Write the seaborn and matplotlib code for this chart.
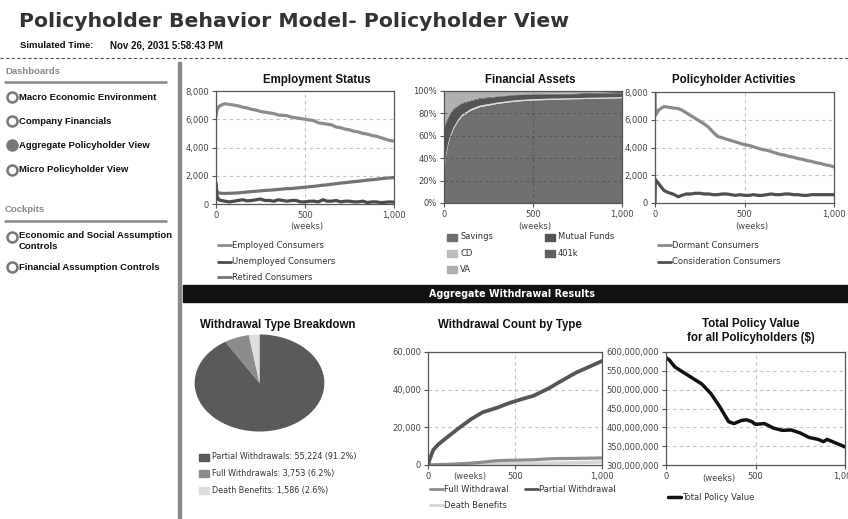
import matplotlib
matplotlib.use("Agg")
import matplotlib.pyplot as plt
import seaborn as sns
from matplotlib.lines import Line2D
from matplotlib.patches import Rectangle
from matplotlib.ticker import FuncFormatter

# ---------------- data ----------------
emp_weeks = [0, 5, 15, 30, 50, 75, 100, 125, 150, 175, 200, 225, 250, 275, 300, 325, 350, 375, 400,
             425, 450, 475, 500, 525, 550, 575, 600, 625, 650, 675, 700, 725, 750, 775, 800, 825,
             850, 875, 900, 925, 950, 975, 1000]
employed = [6200, 6600, 6900, 7000, 7100, 7050, 7000, 6950, 6850, 6800, 6700, 6650, 6550, 6500, 6450,
            6400, 6300, 6280, 6250, 6150, 6100, 6050, 6000, 5950, 5900, 5750, 5700, 5650, 5600, 5450,
            5400, 5300, 5250, 5150, 5100, 5000, 4950, 4850, 4800, 4700, 4600, 4500, 4450]
unemployed = [1500, 600, 300, 250, 200, 150, 200, 250, 300, 220, 250, 300, 350, 250, 250, 200, 300,
              250, 200, 250, 250, 150, 150, 200, 200, 150, 300, 200, 200, 250, 150, 200, 200, 150,
              150, 200, 100, 150, 150, 100, 120, 150, 130]
retired = [1300, 900, 780, 760, 750, 760, 770, 790, 820, 850, 880, 900, 930, 960, 980, 1000, 1030,
           1060, 1090, 1100, 1130, 1160, 1190, 1220, 1250, 1290, 1330, 1360, 1400, 1440, 1480, 1510,
           1550, 1580, 1610, 1650, 1690, 1720, 1750, 1790, 1820, 1850, 1870]

fa_weeks = [0, 5, 10, 20, 30, 50, 75, 100, 150, 200, 300, 400, 500, 700, 850, 1000]
savings = [28, 38, 44, 52, 58, 66, 73, 78, 83, 86, 89, 91, 92, 93, 93.5, 94]
cd = [1.5, 1.5, 1.5, 1.5, 1.5, 1.5, 1.5, 1.5, 1.5, 1.5, 1.2, 1.2, 1.2, 1.0, 1.0, 1.0]
mutual_funds = [38, 30, 26, 22, 19, 16, 12, 9.5, 7, 6, 5, 4.5, 4, 3.5, 3.5, 3.5]
k401 = [2, 2, 2, 1.5, 1.5, 1.2, 1, 1, 0.8, 0.8, 0.6, 0.5, 0.5, 0.5, 1.0, 1.2]
va = [30.5, 28.5, 26.5, 23, 20, 15.3, 12.5, 10, 7.7, 5.7, 4.2, 2.8, 2.3, 2.0, 1.0, 0.3]

pa_weeks = [0, 2, 20, 50, 75, 100, 130, 150, 175, 200, 225, 250, 275, 300, 325, 350, 375, 400, 425,
            450, 475, 500, 525, 550, 575, 600, 625, 650, 675, 700, 725, 750, 775, 800, 825, 850,
            875, 900, 925, 950, 975, 1000]
dormant = [8000, 6300, 6700, 6950, 6900, 6850, 6800, 6700, 6500, 6300, 6100, 5900, 5700, 5450, 5100,
           4800, 4700, 4600, 4500, 4400, 4300, 4200, 4150, 4050, 3950, 3850, 3800, 3700, 3600, 3500,
           3450, 3350, 3300, 3200, 3150, 3050, 3000, 2900, 2850, 2750, 2700, 2600]
consideration = [0, 1700, 1400, 900, 750, 650, 450, 550, 650, 650, 700, 700, 650, 650, 600, 600,
                 650, 650, 600, 550, 600, 550, 550, 600, 550, 550, 600, 650, 600, 600, 650, 650,
                 600, 600, 550, 550, 600, 600, 600, 600, 600, 600]

pie_labels = ["Partial Withdrawals", "Full Withdrawals", "Death Benefits"]
pie_values = [55224, 3753, 1586]
pie_pcts = ["91.2%", "6.2%", "2.6%"]

wc_weeks = [0, 10, 30, 60, 100, 176, 250, 314, 400, 470, 540, 608, 700, 745, 850, 1000]
partial_w = [0, 3000, 8000, 11000, 14000, 19500, 24500, 28000, 30500, 33000, 35000, 36800, 41000,
             43500, 49000, 55200]
full_w = [0, 50, 150, 250, 300, 600, 1000, 1500, 2300, 2500, 2600, 2800, 3300, 3400, 3500, 3750]
death_w = [0, 10, 30, 60, 100, 180, 250, 350, 600, 700, 800, 900, 1050, 1100, 1300, 1586]

tp_weeks = [0, 20, 50, 100, 150, 200, 250, 300, 350, 380, 420, 450, 480, 500, 550, 600, 650, 700,
            750, 800, 850, 880, 900, 950, 1000]
total_value = [585e6, 578e6, 560e6, 545e6, 530e6, 515e6, 490e6, 455e6, 415e6, 410e6, 418e6, 420e6,
               415e6, 408e6, 410e6, 398e6, 392e6, 393e6, 385e6, 373e6, 368e6, 362e6, 368e6, 358e6,
               348e6]

# ---------------- figure ----------------
W, H = 848, 519
fig = plt.figure(figsize=(W / 100, H / 100), dpi=100)
fig.patch.set_facecolor("white")
sns.set_style("white")
plt.rcParams["font.family"] = ["DejaVu Sans"]

HEAD = "Liberation Sans"
TICK_FS = 6
TICK_C = "#444444"
TITLE_FS = 8.3


def fx(x):
    return x / W


def fy(y):
    return 1 - y / H


def ax_at(x0, y0, x1, y1):
    return fig.add_axes([fx(x0), fy(y1), fx(x1 - x0), (y1 - y0) / H])


def ftext(x, y, s, **kw):
    kw.setdefault("va", "center")
    fig.text(fx(x), fy(y), s, **kw)


def style_axes(ax, ylim, yticks, yfmt, xlim=(0, 1000)):
    ax.set_xlim(*xlim)
    ax.set_ylim(*ylim)
    ax.set_xticks([0, 500, 1000])
    ax.set_yticks(yticks)
    ax.xaxis.set_major_formatter(FuncFormatter(lambda v, p: f"{int(v):,}"))
    ax.yaxis.set_major_formatter(FuncFormatter(yfmt))
    ax.tick_params(axis="both", labelsize=TICK_FS, labelcolor=TICK_C, length=3, width=0.8,
                   color="#555555", direction="out", pad=2, left=True, bottom=True)
    for s in ax.spines.values():
        s.set_color("#555555")
        s.set_linewidth(0.9)
    for t in yticks[1:-1]:
        ax.axhline(t, color="#c4c4c4", lw=0.8, ls=(0, (3, 3)), zorder=0.5)
    ax.axvline(500, color="#c4c4c4", lw=0.8, ls=(0, (3, 3)), zorder=0.5)
    ax.set_xlabel("")
    ax.set_ylabel("")
    ax.set_facecolor("white")


def leg_line(x0, y, text, color, lw=2.0):
    fig.add_artist(Line2D([fx(x0), fx(x0 + 13)], [fy(y), fy(y)], color=color, lw=lw,
                          transform=fig.transFigure))
    ftext(x0 + 14, y, text, fontsize=6, color="#333333")


def leg_box(x0, y, text, color, fs=6):
    fig.add_artist(Rectangle((fx(x0), fy(y + 3.5)), fx(10), 7 / H, color=color,
                             transform=fig.transFigure))
    ftext(x0 + 13, y, text, fontsize=fs, color="#333333")


# ---------------- header ----------------
ftext(19, 22, "Policyholder Behavior Model- Policyholder View", fontsize=14.7,
      fontweight="bold", family="DejaVu Sans", color="#333333")
ftext(20, 45, "Simulated Time:", fontsize=6.8, fontweight="bold", family=HEAD, color="#111111")
ftext(110, 45, "Nov 26, 2031 5:58:43 PM", fontsize=7, fontweight="bold", family=HEAD,
      color="#111111")
fig.add_artist(Line2D([0, 1], [fy(58), fy(58)], color="#555555", lw=0.8, ls=(0, (3, 2)),
                      transform=fig.transFigure))
fig.add_artist(Rectangle((fx(177.5), 0), fx(3), fy(62), color="#8a8a8a",
                         transform=fig.transFigure))

# ---------------- sidebar ----------------
ftext(5, 72, "Dashboards", fontsize=6.8, fontweight="bold", family=HEAD, color="#888888")
fig.add_artist(Line2D([fx(5), fx(166)], [fy(82), fy(82)], color="#888888", lw=1.8,
                      transform=fig.transFigure))
items = [("Macro Economic Environment", 97, False), ("Company Financials", 121, False),
         ("Aggregate Policyholder View", 145, True), ("Micro Policyholder View", 170, False)]
for name, yy, filled in items:
    fig.add_artist(Line2D([fx(11.5)], [fy(yy)], marker="o", markersize=7.2,
                          markerfacecolor="#777777" if filled else "white",
                          markeredgecolor="#777777", markeredgewidth=1.8,
                          transform=fig.transFigure))
    ftext(19, yy, name, fontsize=6.8, fontweight="bold", family=HEAD, color="#111111")
ftext(5, 210, "Cockpits", fontsize=6.8, fontweight="bold", family=HEAD, color="#888888")
fig.add_artist(Line2D([fx(5), fx(166)], [fy(220.5), fy(220.5)], color="#888888", lw=1.8,
                      transform=fig.transFigure))
for name, yy, ty in [("Economic and Social Assumption\nControls", 237, 241),
                     ("Financial Assumption Controls", 267, 267)]:
    fig.add_artist(Line2D([fx(11.5)], [fy(yy)], marker="o", markersize=7.2,
                          markerfacecolor="white", markeredgecolor="#777777",
                          markeredgewidth=1.8, transform=fig.transFigure))
    ftext(19, ty, name, fontsize=6.8, fontweight="bold", family=HEAD, color="#111111",
          linespacing=1.15)

# ---------------- chart 1: Employment Status ----------------
ax1 = ax_at(216, 91, 394, 204)
sns.lineplot(x=emp_weeks, y=employed, ax=ax1, color="#8c8c8c", lw=2.3)
sns.lineplot(x=emp_weeks, y=retired, ax=ax1, color="#737373", lw=2.3)
sns.lineplot(x=emp_weeks, y=unemployed, ax=ax1, color="#4a4a4a", lw=2.3)
style_axes(ax1, (0, 8000), [0, 2000, 4000, 6000, 8000], lambda v, p: f"{int(v):,}")
ftext(317, 80, "Employment Status", fontsize=TITLE_FS, fontweight="bold", family=HEAD,
      color="#111111", ha="center")
ftext(307, 227, "(weeks)", fontsize=6, color=TICK_C, ha="center")
leg_line(218, 245, "Employed Consumers", "#8c8c8c")
leg_line(218, 262, "Unemployed Consumers", "#4a4a4a")
leg_line(218, 277, "Retired Consumers", "#737373")

# ---------------- chart 2: Financial Assets ----------------
ax2 = ax_at(444, 91, 622, 203)
fa_colors = ["#6f6f6f", "#dcdcdc", "#545454", "#5e5e5e", "#b0b0b0"]
ax2.stackplot(fa_weeks, savings, cd, mutual_funds, k401, va, colors=fa_colors, lw=0)
style_axes(ax2, (0, 100), [0, 20, 40, 60, 80, 100], lambda v, p: f"{int(v)}%")
for t in [20, 40, 60, 80]:
    ax2.axhline(t, color="#555555", lw=0.7, ls=(0, (3, 3)), zorder=3)
ax2.axvline(500, color="#555555", lw=0.7, ls=(0, (3, 3)), zorder=3)
ftext(530, 80, "Financial Assets", fontsize=TITLE_FS, fontweight="bold", family=HEAD,
      color="#111111", ha="center")
ftext(535, 227, "(weeks)", fontsize=6, color=TICK_C, ha="center")
leg_box(447, 237, "Savings", "#6f6f6f")
leg_box(447, 253, "CD", "#bdbdbd")
leg_box(447, 269, "VA", "#b0b0b0")
leg_box(545, 237, "Mutual Funds", "#545454")
leg_box(545, 253, "401k", "#5e5e5e")

# ---------------- chart 3: Policyholder Activities ----------------
ax3 = ax_at(655, 92, 834, 203)
sns.lineplot(x=pa_weeks, y=dormant, ax=ax3, color="#8a8a8a", lw=2.3)
sns.lineplot(x=pa_weeks, y=consideration, ax=ax3, color="#4f4f4f", lw=2.3)
style_axes(ax3, (0, 8000), [0, 2000, 4000, 6000, 8000], lambda v, p: f"{int(v):,}")
ftext(734, 80, "Policyholder Activities", fontsize=TITLE_FS, fontweight="bold", family=HEAD,
      color="#111111", ha="center")
ftext(752, 227, "(weeks)", fontsize=6, color=TICK_C, ha="center")
leg_line(658, 245, "Dormant Consumers", "#8a8a8a")
leg_line(658, 262, "Consideration Consumers", "#4f4f4f")

# ---------------- banner ----------------
fig.add_artist(Rectangle((fx(183), fy(302)), 1 - fx(183), 17 / H, color="#111111",
                         transform=fig.transFigure))
ftext(512, 294, "Aggregate Withdrawal Results", fontsize=6.9, fontweight="bold",
      color="white", ha="center")

# ---------------- pie ----------------
axp = ax_at(194, 334, 325, 432)
pie_colors = ["#5a5a5a", "#8c8c8c", "#dedede"]
axp.pie(pie_values, colors=pie_colors, startangle=90, counterclock=False, radius=1,
        wedgeprops=dict(edgecolor="none"))
axp.set_aspect("auto")
axp.set_xlim(-1.01, 1.01)
axp.set_ylim(-1.01, 1.01)
axp.axis("off")
ftext(278, 325, "Withdrawal Type Breakdown", fontsize=TITLE_FS, fontweight="bold", family=HEAD,
      color="#111111", ha="center")
for i, (lab, val, pc, col) in enumerate(zip(pie_labels, pie_values, pie_pcts, pie_colors)):
    leg_box(199, 457 + i * 16.5, f"{lab}: {val:,} ({pc})", col, fs=5.8)

# ---------------- chart 5: Withdrawal Count ----------------
ax5 = ax_at(428, 352, 602, 465)
sns.lineplot(x=wc_weeks, y=death_w, ax=ax5, color="#d4d4d4", lw=2.3)
sns.lineplot(x=wc_weeks, y=full_w, ax=ax5, color="#8c8c8c", lw=2.3)
sns.lineplot(x=wc_weeks, y=partial_w, ax=ax5, color="#555555", lw=2.7)
style_axes(ax5, (0, 60000), [0, 20000, 40000, 60000], lambda v, p: f"{int(v):,}")
ftext(510, 325, "Withdrawal Count by Type", fontsize=TITLE_FS, fontweight="bold", family=HEAD,
      color="#111111", ha="center")
ftext(470, 477, "(weeks)", fontsize=6, color=TICK_C, ha="center")
leg_line(430, 489, "Full Withdrawal", "#8c8c8c")
leg_line(525, 489, "Partial Withdrawal", "#555555")
leg_line(430, 505, "Death Benefits", "#d4d4d4")

# ---------------- chart 6: Total Policy Value ----------------
ax6 = ax_at(666, 352, 845, 465)
sns.lineplot(x=tp_weeks, y=total_value, ax=ax6, color="#111111", lw=2.5)
style_axes(ax6, (300e6, 600e6), [300e6, 350e6, 400e6, 450e6, 500e6, 550e6, 600e6],
           lambda v, p: f"{int(v):,}")
ftext(751, 324, "Total Policy Value", fontsize=TITLE_FS, fontweight="bold", family=HEAD,
      color="#111111", ha="center")
ftext(751, 338, "for all Policyholders ($)", fontsize=TITLE_FS, fontweight="bold", family=HEAD,
      color="#111111", ha="center")
ftext(719, 478, "(weeks)", fontsize=6, color=TICK_C, ha="center")
leg_line(668, 497, "Total Policy Value", "#111111", lw=2.5)

fig.savefig("out.png", dpi=100, facecolor="white")
